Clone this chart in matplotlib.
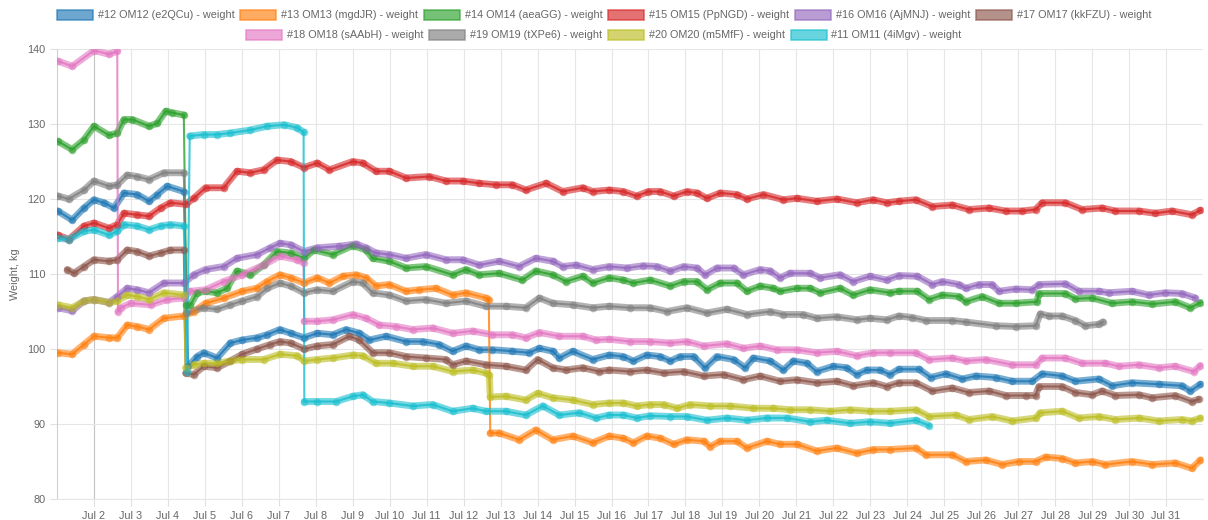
import numpy as np
import matplotlib
matplotlib.use('Agg')
import matplotlib.pyplot as plt
from matplotlib.patches import Patch

plt.rcParams['font.family'] = ['Liberation Sans', 'DejaVu Sans']

# ---------------------------- data (day of July, kg) ---------------------------- #
om12 = [(1.02, 118.4), (1.41, 117.2), (1.73, 118.8), (2.0, 119.9), (2.27, 119.5), (2.54, 118.8), (2.81, 120.8),
        (3.17, 120.6), (3.49, 119.7), (3.71, 120.6), (3.98, 121.7), (4.43, 121.0), (4.55, 97.7), (4.79, 99.0),
        (4.97, 99.5), (5.33, 98.8), (5.69, 100.8), (6.01, 101.2), (6.41, 101.5), (6.68, 101.9), (7.03, 102.6),
        (7.32, 102.1), (7.68, 101.5), (8.04, 102.1), (8.46, 101.9), (8.82, 102.6), (9.18, 102.1), (9.45, 101.2),
        (9.9, 101.7), (10.44, 101.0), (10.89, 101.0), (11.34, 100.6), (11.7, 99.7), (12.06, 100.4), (12.42, 99.9),
        (12.78, 99.9), (13.32, 99.7), (13.77, 99.5), (14.05, 100.1), (14.41, 99.7), (14.59, 98.8), (14.95, 99.7),
        (15.49, 98.6), (15.94, 99.2), (16.32, 99.0), (16.59, 98.4), (16.95, 99.2), (17.32, 99.0), (17.59, 98.4),
        (17.86, 99.0), (18.22, 99.0), (18.53, 97.5), (18.85, 99.0), (19.3, 98.6), (19.61, 97.5), (19.84, 98.8),
        (20.29, 98.4), (20.65, 97.2), (20.92, 98.4), (21.28, 98.1), (21.55, 97.0), (22.0, 97.7), (22.36, 97.5),
        (22.63, 96.6), (22.9, 97.2), (23.26, 97.2), (23.53, 96.6), (23.77, 97.3), (24.32, 97.3), (24.63, 96.2),
        (25.04, 96.7), (25.49, 96.0), (25.85, 96.4), (26.39, 96.2), (26.84, 95.7), (27.38, 95.7), (27.65, 96.7),
        (28.19, 96.4), (28.55, 95.7), (29.18, 96.0), (29.54, 95.1), (30.08, 95.5), (30.8, 95.3), (31.43, 95.1),
        (31.66, 94.4), (31.93, 95.3)]

om13 = [(1.02, 99.5), (1.41, 99.3), (1.73, 100.6), (2.0, 101.7), (2.41, 101.5), (2.63, 101.5), (2.9, 103.2),
        (3.17, 103.0), (3.49, 102.6), (3.89, 104.1), (4.43, 104.4), (4.7, 105.0), (5.02, 106.1), (5.51, 106.8),
        (6.01, 107.7), (6.41, 108.1), (6.68, 109.0), (7.03, 109.9), (7.32, 109.5), (7.68, 108.8), (8.04, 109.5),
        (8.37, 108.8), (8.73, 109.7), (9.09, 109.9), (9.36, 109.5), (9.63, 108.4), (9.99, 108.6), (10.44, 107.7),
        (10.8, 107.9), (11.25, 108.1), (11.7, 107.2), (12.06, 107.5), (12.6, 106.8), (12.68, 106.6), (12.72, 88.8),
        (12.96, 88.8), (13.5, 87.9), (13.95, 89.2), (14.41, 87.9), (14.95, 88.4), (15.49, 87.5), (15.94, 88.4),
        (16.32, 88.1), (16.59, 87.5), (16.95, 88.4), (17.32, 88.1), (17.68, 87.3), (18.04, 87.9), (18.49, 87.7),
        (18.67, 87.0), (18.94, 87.7), (19.39, 87.7), (19.66, 86.8), (20.2, 87.7), (20.56, 87.3), (21.01, 87.3),
        (21.55, 86.4), (22.09, 86.8), (22.63, 86.1), (23.08, 86.6), (23.53, 86.6), (24.23, 86.8), (24.5, 85.9),
        (25.22, 85.9), (25.58, 85.0), (26.12, 85.2), (26.57, 84.6), (27.02, 85.0), (27.47, 85.0), (27.74, 85.6),
        (28.19, 85.4), (28.55, 84.8), (29.0, 85.0), (29.36, 84.6), (30.08, 85.0), (30.62, 84.6), (31.25, 84.8),
        (31.7, 84.1), (31.93, 85.2)]

om14 = [(1.02, 127.7), (1.41, 126.6), (1.73, 127.9), (2.0, 129.7), (2.41, 128.5), (2.63, 128.8), (2.81, 130.6),
        (3.04, 130.6), (3.49, 129.7), (3.71, 130.1), (3.94, 131.7), (4.12, 131.5), (4.43, 131.2), (4.5, 105.9),
        (4.61, 105.9), (4.79, 107.5), (5.02, 107.7), (5.33, 107.5), (5.6, 108.1), (5.87, 110.4), (6.23, 109.9),
        (6.59, 111.2), (6.95, 113.0), (7.32, 112.8), (7.68, 112.1), (7.95, 113.2), (8.46, 112.6), (9.0, 113.8),
        (9.36, 113.2), (9.54, 112.1), (9.99, 111.7), (10.44, 110.8), (10.98, 111.0), (11.7, 109.9), (12.06, 110.6),
        (12.42, 109.9), (12.96, 110.1), (13.59, 109.2), (13.95, 110.4), (14.41, 109.9), (14.77, 109.0),
        (15.22, 109.7), (15.49, 108.8), (15.94, 109.5), (16.32, 109.2), (16.59, 108.8), (17.05, 109.2),
        (17.59, 108.4), (17.95, 109.0), (18.31, 109.0), (18.58, 107.9), (18.94, 108.8), (19.39, 108.8),
        (19.66, 107.7), (20.02, 108.4), (20.38, 108.1), (20.56, 107.7), (21.01, 108.1), (21.37, 108.1),
        (21.64, 107.5), (22.18, 108.1), (22.54, 107.2), (22.99, 107.9), (23.53, 107.5), (23.77, 107.7),
        (24.27, 107.7), (24.59, 106.6), (24.95, 107.2), (25.4, 107.0), (25.58, 106.3), (26.03, 107.0),
        (26.48, 106.1), (26.93, 106.1), (27.51, 106.3), (27.56, 107.4), (28.28, 107.4), (28.55, 106.7),
        (29.0, 106.8), (29.54, 106.1), (30.08, 106.3), (30.62, 106.0), (31.25, 106.3), (31.66, 105.5),
        (31.93, 106.2)]

om15 = [(1.02, 115.2), (1.32, 114.6), (1.73, 116.4), (2.0, 116.8), (2.41, 116.1), (2.63, 116.6), (2.81, 118.1),
        (3.17, 117.9), (3.49, 117.7), (3.8, 118.8), (4.07, 119.5), (4.48, 119.3), (4.7, 120.1), (5.02, 121.5),
        (5.51, 121.5), (5.87, 123.7), (6.23, 123.5), (6.59, 123.9), (6.95, 125.2), (7.32, 125.0), (7.68, 124.2),
        (8.04, 124.8), (8.37, 123.9), (9.0, 125.0), (9.27, 124.8), (9.63, 123.7), (9.99, 123.7), (10.44, 122.8),
        (11.07, 123.0), (11.52, 122.4), (11.97, 122.4), (12.42, 122.1), (12.87, 121.9), (13.32, 121.9),
        (13.68, 121.2), (14.23, 122.1), (14.68, 121.0), (15.22, 121.5), (15.49, 121.0), (15.94, 121.2),
        (16.32, 121.0), (16.68, 120.4), (17.0, 121.0), (17.32, 121.0), (17.68, 120.4), (18.04, 121.0),
        (18.31, 120.8), (18.58, 120.1), (18.94, 120.8), (19.39, 120.6), (19.66, 120.0), (20.11, 120.6),
        (20.65, 119.9), (21.01, 120.1), (21.55, 119.7), (22.09, 120.0), (22.63, 119.5), (23.08, 119.9),
        (23.44, 119.5), (23.77, 119.7), (24.23, 119.9), (24.68, 119.0), (25.22, 119.2), (25.67, 118.6),
        (26.21, 118.8), (26.66, 118.4), (27.11, 118.4), (27.47, 118.6), (27.65, 119.5), (28.28, 119.5),
        (28.73, 118.6), (29.27, 118.8), (29.63, 118.4), (30.26, 118.4), (30.71, 118.1), (31.16, 118.4),
        (31.7, 117.9), (31.93, 118.5)]

om16 = [(1.02, 105.5), (1.41, 105.1), (1.73, 106.4), (2.0, 106.6), (2.41, 106.2), (2.63, 107.0), (2.9, 108.1),
        (3.17, 107.9), (3.49, 107.5), (3.89, 108.8), (4.43, 108.8), (4.7, 109.9), (5.02, 110.6), (5.51, 111.0),
        (5.87, 112.1), (6.41, 112.6), (6.77, 113.5), (7.03, 114.1), (7.32, 113.9), (7.68, 113.0), (8.04, 113.5),
        (8.64, 113.7), (9.09, 114.0), (9.36, 113.5), (9.63, 112.8), (9.99, 112.6), (10.44, 112.1), (10.98, 112.6),
        (11.52, 111.9), (11.97, 111.9), (12.42, 111.2), (12.96, 111.7), (13.5, 111.0), (13.95, 112.1),
        (14.41, 111.7), (14.68, 111.0), (15.04, 111.2), (15.49, 110.6), (15.94, 111.0), (16.41, 110.8),
        (16.86, 111.1), (17.23, 111.0), (17.59, 110.4), (17.95, 111.0), (18.31, 110.8), (18.53, 109.9),
        (18.85, 110.8), (19.3, 110.8), (19.57, 109.9), (20.02, 110.6), (20.29, 110.4), (20.56, 109.5),
        (20.83, 110.1), (21.37, 110.1), (21.64, 109.5), (22.18, 109.9), (22.54, 109.0), (22.99, 109.7),
        (23.44, 109.2), (23.77, 109.8), (24.27, 109.7), (24.68, 108.6), (24.95, 109.0), (25.4, 108.6),
        (25.58, 108.1), (25.94, 108.6), (26.3, 108.6), (26.48, 107.7), (26.93, 108.0), (27.38, 107.9),
        (27.56, 108.6), (28.28, 108.7), (28.64, 107.7), (29.18, 107.7), (29.45, 107.5), (30.08, 107.7),
        (30.53, 107.2), (30.98, 107.5), (31.43, 107.4), (31.79, 106.8)]

om17 = [(1.28, 110.6), (1.46, 110.1), (1.73, 111.0), (2.0, 111.9), (2.41, 111.7), (2.63, 111.9), (2.9, 113.2),
        (3.17, 113.0), (3.49, 112.4), (3.8, 112.8), (4.07, 113.2), (4.43, 113.2), (4.48, 96.8), (4.7, 96.6),
        (4.97, 97.7), (5.33, 97.5), (5.69, 98.4), (6.01, 99.3), (6.41, 100.0), (6.77, 100.6), (7.03, 101.0),
        (7.32, 100.8), (7.68, 100.0), (8.04, 100.4), (8.46, 100.6), (8.91, 101.7), (9.18, 101.2), (9.54, 99.5),
        (9.99, 99.5), (10.44, 99.0), (10.98, 98.8), (11.52, 98.6), (11.7, 97.9), (12.06, 98.4), (12.6, 97.9),
        (13.14, 97.7), (13.68, 97.2), (14.0, 98.6), (14.41, 97.5), (14.77, 97.2), (15.22, 97.5), (15.67, 97.0),
        (15.94, 97.2), (16.5, 97.0), (16.95, 97.2), (17.41, 96.8), (17.95, 97.0), (18.49, 96.4), (19.03, 96.6),
        (19.57, 95.9), (20.02, 96.4), (20.56, 95.7), (21.01, 95.9), (21.55, 95.5), (22.09, 95.7), (22.54, 95.1),
        (23.08, 95.5), (23.44, 95.0), (23.77, 95.5), (24.23, 95.5), (24.68, 94.4), (25.22, 94.8), (25.67, 94.2),
        (26.21, 94.4), (26.66, 93.8), (27.2, 93.8), (27.47, 93.8), (27.56, 95.0), (28.19, 95.0), (28.55, 94.2),
        (29.0, 93.9), (29.27, 94.4), (29.63, 93.8), (30.26, 93.9), (30.62, 93.5), (31.25, 93.8), (31.7, 93.0),
        (31.88, 93.3)]

om18 = [(1.02, 138.4), (1.41, 137.7), (2.0, 139.8), (2.41, 139.3), (2.63, 139.7), (2.65, 105.0), (2.72, 105.5),
        (2.99, 106.1), (3.53, 105.9), (3.98, 106.6), (4.43, 106.8), (4.61, 107.7), (5.02, 107.9), (5.51, 109.0),
        (6.01, 109.9), (6.59, 111.2), (7.03, 112.4), (7.5, 111.9), (7.67, 111.5), (7.69, 103.7), (8.04, 103.7),
        (8.46, 103.9), (9.0, 104.6), (9.36, 104.1), (9.72, 103.2), (10.17, 103.0), (10.62, 102.6), (11.16, 102.8),
        (11.7, 102.1), (12.24, 102.4), (12.78, 101.9), (13.32, 101.9), (13.68, 101.5), (14.05, 102.2),
        (14.59, 101.7), (15.22, 101.7), (15.58, 101.2), (15.94, 101.3), (16.5, 101.0), (17.05, 101.0),
        (17.59, 100.8), (18.04, 101.0), (18.49, 100.4), (19.12, 100.7), (19.57, 100.1), (20.02, 100.4),
        (20.47, 99.9), (21.01, 99.9), (21.55, 99.5), (22.09, 99.7), (22.63, 99.1), (23.08, 99.5), (23.53, 99.5),
        (24.23, 99.5), (24.59, 98.6), (25.22, 98.8), (25.58, 98.4), (26.12, 98.6), (26.84, 97.9), (27.47, 97.9),
        (27.65, 98.8), (28.28, 98.8), (28.73, 98.1), (29.36, 98.1), (29.72, 97.7), (30.26, 97.9), (30.8, 97.5),
        (31.25, 97.7), (31.75, 97.0), (31.93, 97.8)]

om19 = [(1.02, 120.4), (1.32, 120.0), (1.73, 121.2), (2.0, 122.4), (2.41, 121.7), (2.63, 121.9), (2.9, 123.2),
        (3.17, 123.0), (3.49, 122.6), (3.89, 123.5), (4.43, 123.5), (4.5, 104.8), (4.97, 105.5), (5.33, 105.3),
        (5.69, 105.9), (6.01, 106.4), (6.41, 107.0), (6.68, 108.1), (7.03, 108.8), (7.32, 108.4), (7.68, 107.5),
        (8.04, 107.9), (8.46, 107.7), (9.0, 109.0), (9.27, 108.8), (9.54, 107.5), (9.99, 107.2), (10.44, 106.4),
        (10.98, 106.6), (11.52, 106.1), (12.06, 106.4), (12.6, 105.7), (13.14, 105.7), (13.68, 105.5),
        (14.05, 106.8), (14.41, 106.1), (14.95, 105.9), (15.49, 105.5), (15.94, 105.7), (16.5, 105.5),
        (17.05, 105.5), (17.5, 105.0), (18.04, 105.5), (18.58, 104.8), (19.12, 105.3), (19.66, 104.6),
        (20.29, 105.0), (20.65, 104.6), (21.19, 104.6), (21.55, 104.1), (22.09, 104.3), (22.63, 103.9),
        (22.99, 104.1), (23.44, 103.9), (23.77, 104.4), (24.14, 104.2), (24.5, 103.8), (25.22, 103.8),
        (25.58, 103.6), (26.39, 103.1), (26.93, 103.0), (27.47, 103.1), (27.6, 104.7), (27.83, 104.4),
        (28.19, 104.4), (28.55, 103.8), (28.82, 103.1), (29.18, 103.3), (29.29, 103.6)]

om20 = [(1.02, 105.9), (1.41, 105.5), (1.73, 106.4), (2.0, 106.6), (2.41, 106.2), (2.63, 106.4), (2.9, 107.2),
        (3.17, 107.0), (3.49, 106.6), (3.89, 107.5), (4.43, 107.2), (4.48, 97.5), (4.7, 97.9), (4.97, 98.1),
        (5.33, 98.1), (5.69, 98.4), (6.01, 98.6), (6.59, 98.6), (7.03, 99.3), (7.5, 99.1), (7.69, 98.4),
        (8.04, 98.6), (8.46, 98.8), (9.0, 99.2), (9.27, 99.1), (9.63, 98.1), (10.08, 98.1), (10.62, 97.7),
        (11.16, 97.7), (11.7, 97.0), (12.24, 97.2), (12.6, 96.8), (12.69, 96.6), (12.72, 93.6), (13.14, 93.7),
        (13.68, 93.2), (14.0, 94.1), (14.41, 93.5), (14.95, 93.2), (15.49, 92.6), (15.94, 92.8), (16.32, 92.8),
        (16.68, 92.4), (17.05, 92.6), (17.41, 92.6), (17.77, 92.1), (18.13, 92.6), (18.67, 92.4), (19.21, 92.4),
        (19.84, 92.1), (20.38, 92.1), (20.83, 91.9), (21.37, 91.9), (21.91, 91.7), (22.45, 91.9), (22.99, 91.7),
        (23.53, 91.7), (24.23, 91.9), (24.59, 91.0), (25.31, 91.2), (25.67, 90.6), (26.3, 91.0), (26.84, 90.4),
        (27.47, 90.8), (27.6, 91.5), (28.19, 91.7), (28.64, 90.8), (29.18, 91.0), (29.63, 90.6), (30.26, 90.8),
        (30.8, 90.4), (31.43, 90.6), (31.7, 90.4), (31.93, 90.8)]

om11 = [(1.02, 114.8), (1.32, 114.6), (1.73, 115.7), (2.0, 115.9), (2.41, 115.2), (2.63, 115.7), (2.81, 116.6),
        (3.17, 116.4), (3.49, 115.9), (3.8, 116.4), (4.07, 116.6), (4.43, 116.4), (4.52, 97.0), (4.59, 128.4),
        (4.97, 128.6), (5.33, 128.6), (5.69, 128.8), (6.23, 129.2), (6.68, 129.7), (7.14, 129.9), (7.5, 129.5),
        (7.67, 128.9), (7.69, 93.0), (8.04, 93.0), (8.55, 93.0), (9.0, 93.7), (9.27, 93.9), (9.54, 93.0),
        (9.99, 92.8), (10.62, 92.4), (11.16, 92.6), (11.7, 91.7), (12.24, 92.1), (12.6, 91.7), (13.14, 91.7),
        (13.68, 91.2), (14.14, 92.4), (14.59, 91.2), (15.13, 91.5), (15.58, 90.8), (15.94, 91.2), (16.32, 91.2),
        (16.68, 90.8), (17.05, 91.1), (17.59, 91.0), (18.04, 91.0), (18.58, 90.5), (19.12, 90.8), (19.66, 90.5),
        (20.2, 90.8), (20.74, 90.8), (21.37, 90.3), (21.82, 90.5), (22.45, 90.1), (22.99, 90.3), (23.53, 90.1),
        (24.23, 90.5), (24.59, 89.8)]

series = [om12, om13, om14, om15, om16, om17, om18, om19, om20, om11]
labels = ['#12 OM12 (e2QCu) - weight', '#13 OM13 (mgdJR) - weight', '#14 OM14 (aeaGG) - weight',
          '#15 OM15 (PpNGD) - weight', '#16 OM16 (AjMNJ) - weight', '#17 OM17 (kkFZU) - weight',
          '#18 OM18 (sAAbH) - weight', '#19 OM19 (tXPe6) - weight', '#20 OM20 (m5MfF) - weight',
          '#11 OM11 (4iMgv) - weight']
colors = ['#1f77b4', '#ff7f0e', '#2ca02c', '#d62728', '#9467bd',
          '#8c564b', '#e377c2', '#7f7f7f', '#bcbd22', '#17becf']
tick_days = list(range(2, 32))
tick_labels = [f'Jul {d}' for d in tick_days]

FS = 7.8

# ---------------------------- plot ---------------------------- #
fig = plt.figure(figsize=(12.08, 5.2), dpi=100)
ax = fig.add_axes([57 / 1208, 1 - 499 / 520, 1146 / 1208, 450 / 520])

for pts, color in zip(series, colors):
    x = np.array([p[0] for p in pts])
    y = np.array([p[1] for p in pts])
    # thin connector everywhere (visible on the vertical jumps)
    ax.plot(x, y, color=color, lw=1.5, alpha=0.8, zorder=3)
    # thick bead band, broken at the jumps
    jumps = np.where(np.abs(np.diff(y)) > 3)[0]
    xs, ys = list(x), list(y.astype(float))
    for j in jumps[::-1]:
        xs.insert(j + 1, np.nan)
        ys.insert(j + 1, np.nan)
    ax.plot(xs, ys, color=color, lw=5.0, alpha=0.6, solid_capstyle='round', zorder=3)
    ax.plot(x, y, 'o', color=color, ms=5.5, alpha=0.55, mew=0, zorder=4)

ax.set_xlim(1, 32)
ax.set_ylim(80, 140)
ax.set_xticks(tick_days)
ax.set_xticklabels(tick_labels)
ax.set_yticks(range(80, 141, 10))
ax.grid(True, color='#e6e6e6', lw=0.8)
ax.set_axisbelow(True)
for g in ax.get_xgridlines():
    if g.get_xdata()[0] == 2:
        g.set_color('#c4c4c4')
for s in ['top', 'right']:
    ax.spines[s].set_visible(False)
ax.spines['left'].set_color('#d0d0d0')
ax.spines['bottom'].set_color('#e6e6e6')
ax.tick_params(axis='both', colors='#e0e0e0', labelcolor='#666666', labelsize=FS, length=5, width=0.8)
ax.set_ylabel('Weight, kg', color='#666666', fontsize=FS, labelpad=5)

# legend: two centred rows like the original
handles = [Patch(facecolor=c, edgecolor=c, alpha=0.65, lw=1.2) for c in colors]
leg_kw = dict(frameon=False, fontsize=FS, handlelength=3.3, handleheight=1.05,
              handletextpad=0.45, columnspacing=0.55, labelcolor='#666666', borderaxespad=0)
fig.legend(handles[:6], labels[:6], ncol=6, loc='center', bbox_to_anchor=(0.5, 1 - 15 / 520), **leg_kw)
fig.legend(handles[6:], labels[6:], ncol=4, loc='center', bbox_to_anchor=(0.5, 1 - 35 / 520), **leg_kw)

fig.savefig('out.png', dpi=100)
